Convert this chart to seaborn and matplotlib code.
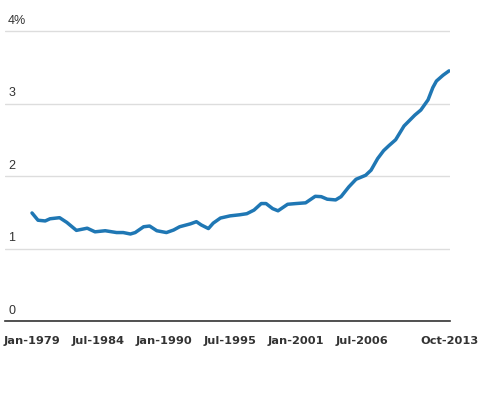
import numpy as np
import pandas as pd
import matplotlib
matplotlib.use("Agg")
import matplotlib.pyplot as plt
import matplotlib.transforms as mtransforms
import seaborn as sns

# Values (decimal year, percent)
years = [1979.0, 1979.5, 1980.1, 1980.5, 1981.3, 1981.9, 1982.7, 1983.6, 1984.25,
         1985.1, 1986.05, 1986.6, 1987.2, 1987.6, 1988.3, 1988.8, 1989.4, 1990.2,
         1990.8, 1991.3, 1992.2, 1992.7, 1993.1, 1993.7, 1994.1, 1994.7, 1995.5,
         1996.3, 1996.9, 1997.5, 1998.1, 1998.5, 1999.05, 1999.5, 2000.3, 2001.0,
         2001.8, 2002.6, 2003.1, 2003.6, 2004.3, 2004.75, 2005.4, 2006.0, 2006.8,
         2007.25, 2007.8, 2008.3, 2008.75, 2009.3, 2010.0, 2010.6, 2010.9, 2011.4,
         2012.0, 2012.4, 2012.7, 2013.25, 2013.75]
values = [1.49, 1.39, 1.38, 1.41, 1.425, 1.36, 1.25, 1.28, 1.23,
          1.245, 1.22, 1.22, 1.20, 1.22, 1.30, 1.31, 1.245, 1.22,
          1.255, 1.30, 1.34, 1.37, 1.325, 1.275, 1.35, 1.42, 1.45,
          1.465, 1.48, 1.53, 1.62, 1.62, 1.55, 1.52, 1.61, 1.62,
          1.63, 1.72, 1.715, 1.68, 1.67, 1.715, 1.85, 1.955, 2.01,
          2.08, 2.24, 2.35, 2.42, 2.50, 2.69, 2.79, 2.84, 2.91,
          3.05, 3.22, 3.31, 3.39, 3.45]

tick_years = [1979.0, 1984.5, 1990.0, 1995.5, 2001.0, 2006.5, 2013.75]
tick_labels = ["Jan-1979", "Jul-1984", "Jan-1990", "Jul-1995", "Jan-2001", "Jul-2006", "Oct-2013"]
y_ticks = [0, 1, 2, 3, 4]
y_labels = ["0", "1", "2", "3", "4%"]

df = pd.DataFrame({"year": years, "value": values})

sns.set_style("white")
plt.rcParams['font.family'] = ['DejaVu Sans']

fig = plt.figure(figsize=(4.8, 4.0), dpi=100)
# axes in pixel terms: x 5..450, y 321 (bottom) .. 23.75 (top)
ax = fig.add_axes([5 / 480, 79 / 400, 445 / 480, (321 - 23.75) / 400])

sns.lineplot(data=df, x="year", y="value", ax=ax, color="#1f77b4", linewidth=2.5)

ax.set_xlim(1976.75, 2013.83)
ax.set_ylim(0, 4.1)

for s in ["top", "right", "left"]:
    ax.spines[s].set_visible(False)
ax.spines["bottom"].set_color("#333333")
ax.spines["bottom"].set_linewidth(1.2)

ax.set_yticks(y_ticks)
ax.set_yticklabels([])
ax.tick_params(axis="y", length=0)
ax.yaxis.grid(True, color="#dddddd", linewidth=1)
ax.set_axisbelow(True)

trans = mtransforms.blended_transform_factory(ax.transAxes, ax.transData)
offset = mtransforms.ScaledTranslation(0, 3 / 72, fig.dpi_scale_trans)
for yv, lab in zip(y_ticks, y_labels):
    ax.text(0.007, yv, lab, transform=trans + offset, ha="left", va="bottom",
            fontsize=9, color="#333333", family=["Liberation Sans", "DejaVu Sans"])

ax.set_xticks(tick_years)
ax.set_xticklabels(tick_labels, fontsize=8.2, fontweight="bold", color="#333333")
ax.tick_params(axis="x", length=0, pad=11)
ax.set_xlabel("")
ax.set_ylabel("")

fig.savefig("out.png", dpi=100)
